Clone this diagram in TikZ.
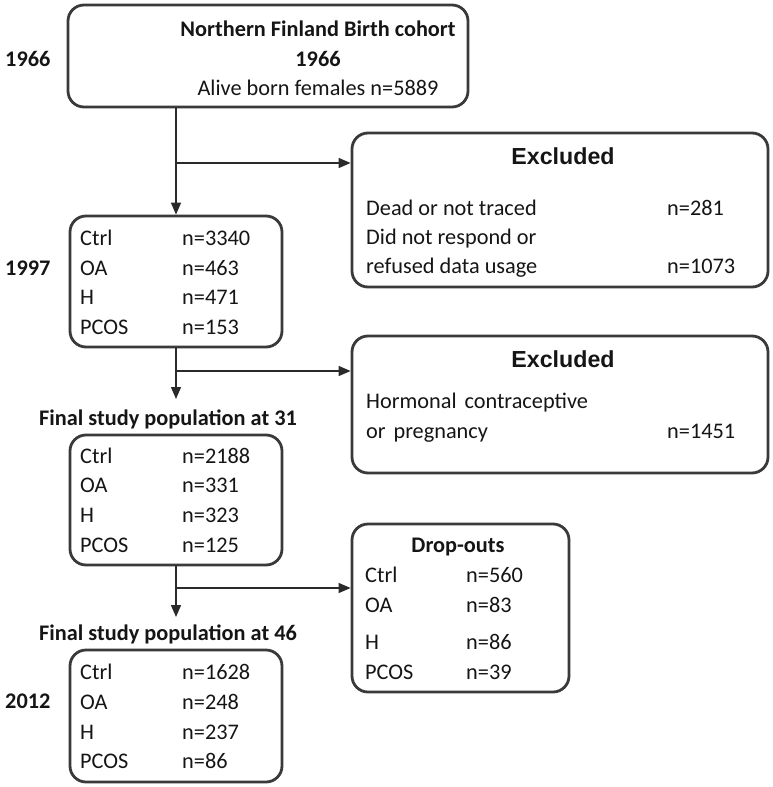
\documentclass[tikz,border=0pt]{standalone}
\usepackage{fontspec}
\setmainfont{Carlito}
\newfontfamily\arialfont{Liberation Sans}
\usetikzlibrary{arrows.meta}
\definecolor{boxc}{HTML}{3A3A3A}
\definecolor{linec}{HTML}{2A2A2A}
\definecolor{txtc}{HTML}{151515}
\begin{document}
\begin{tikzpicture}[x=1pt,y=-1pt,
  boxnode/.style={draw=boxc, line width=2.8pt, rounded corners=16pt, inner sep=0pt},
  txt/.style={anchor=base west, inner sep=0pt, text=txtc, font=\fontsize{22.3}{26}\selectfont},
  ctxt/.style={anchor=base, inner sep=0pt, text=txtc, font=\fontsize{22.3}{26}\selectfont},
  btxt/.style={anchor=base, inner sep=0pt, text=txtc, font=\bfseries\fontsize{22.3}{26}\selectfont},
  head/.style={anchor=base, inner sep=0pt, text=txtc, font=\arialfont\bfseries\fontsize{23.2}{27}\selectfont},
  conn/.style={draw=linec, line width=1.4pt},
  arr/.style={conn, -{Triangle[length=12pt,width=10pt]}}]
\useasboundingbox (0,0) rectangle (773,787);

% boxes
\node[boxnode, minimum width=400pt, minimum height=102pt] (top) at (268,56) {};
\node[boxnode, minimum width=212pt, minimum height=131pt] (box2) at (176,281.5) {};
\node[boxnode, minimum width=416pt, minimum height=154pt] (exc1) at (560,210) {};
\node[boxnode, minimum width=212pt, minimum height=130pt] (box3) at (176,500) {};
\node[boxnode, minimum width=416pt, minimum height=137pt] (exc2) at (560,404.5) {};
\node[boxnode, minimum width=212pt, minimum height=132pt] (box4) at (176,716) {};
\node[boxnode, minimum width=217pt, minimum height=168pt] (drop) at (460.5,608) {};

% year labels
\node[btxt, anchor=base west] (y1966) at (5,66) {1966};
\node[btxt, anchor=base west] (y1997) at (5,275.5) {1997};
\node[btxt, anchor=base west] (y2012) at (5,708.5) {2012};

% top box text
\node[btxt] (t1) at (318,36) {Northern Finland Birth cohort};
\node[btxt] (t2) at (318,66) {1966};
\node[ctxt] (t3) at (318,95) {Alive born females n=5889};

% box2
\node[txt] (b2a) at (80,245.5) {Ctrl};
\node[txt] (b2an) at (182,245.5) {n=3340};
\node[txt] (b2b) at (80,275.5) {OA};
\node[txt] (b2bn) at (182,275.5) {n=463};
\node[txt] (b2c) at (80,304.5) {H};
\node[txt] (b2cn) at (182,304.5) {n=471};
\node[txt] (b2d) at (80,334.5) {PCOS};
\node[txt] (b2dn) at (182,334.5) {n=153};

% excluded 1
\node[head] (e1h) at (563,164) {Excluded};
\node[txt] (e1a) at (366,215.5) {Dead or not traced};
\node[txt] (e1an) at (667,215.5) {n=281};
\node[txt] (e1b) at (366,244.5) {Did not respond or};
\node[txt] (e1c) at (366,273.5) {refused data usage};
\node[txt] (e1cn) at (667,273.5) {n=1073};

% final 31
\node[btxt] (f31) at (168,425) {Final study population at 31};
\node[txt] (b3a) at (80,463.5) {Ctrl};
\node[txt] (b3an) at (182,463.5) {n=2188};
\node[txt] (b3b) at (80,492.5) {OA};
\node[txt] (b3bn) at (182,492.5) {n=331};
\node[txt] (b3c) at (80,522.5) {H};
\node[txt] (b3cn) at (182,522.5) {n=323};
\node[txt] (b3d) at (80,552.5) {PCOS};
\node[txt] (b3dn) at (182,552.5) {n=125};

% excluded 2
\node[head] (e2h) at (563,367) {Excluded};
\node[txt] (e2a) at (366,408.5) {Hormonal\hspace{0.35em}contraceptive};
\node[txt] (e2b) at (366,438.5) {or\hspace{0.35em}pregnancy};
\node[txt] (e2bn) at (667,438.5) {n=1451};

% final 46
\node[btxt] (f46) at (168,640.5) {Final study population at 46};
\node[txt] (b4a) at (80,679.5) {Ctrl};
\node[txt] (b4an) at (182,679.5) {n=1628};
\node[txt] (b4b) at (80,709.5) {OA};
\node[txt] (b4bn) at (182,709.5) {n=248};
\node[txt] (b4c) at (80,739.5) {H};
\node[txt] (b4cn) at (182,739.5) {n=237};
\node[txt] (b4d) at (80,768.5) {PCOS};
\node[txt] (b4dn) at (182,768.5) {n=86};

% drop-outs
\node[btxt] (dh) at (458,552) {Drop-outs};
\node[txt] (da) at (365,582) {Ctrl};
\node[txt] (dan) at (466,582) {n=560};
\node[txt] (db) at (365,612.5) {OA};
\node[txt] (dbn) at (466,612.5) {n=83};
\node[txt] (dc) at (365,649.5) {H};
\node[txt] (dcn) at (466,649.5) {n=86};
\node[txt] (dd) at (365,679.5) {PCOS};
\node[txt] (ddn) at (466,679.5) {n=39};

% connectors
\coordinate (j1) at (176,163);
\coordinate (j2) at (176,371);
\coordinate (j3) at (176,588);
\coordinate (a31) at (176,399);
\coordinate (a46) at (176,617);
\draw[arr] (top.south -| box2.north) -- (box2.north);
\draw[arr] (j1) -- (j1 -| exc1.west);
\draw[arr] (box2.south) -- (a31);
\draw[arr] (j2) -- (j2 -| exc2.west);
\draw[arr] (box3.south) -- (a46);
\draw[arr] (j3) -- (j3 -| drop.west);
\end{tikzpicture}
\end{document}
